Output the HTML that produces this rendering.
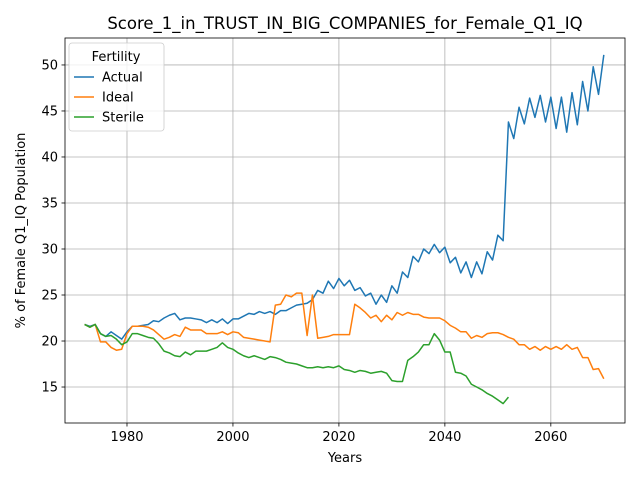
<!DOCTYPE html>
<html><head><meta charset="utf-8"><style>body{margin:0;background:#fff}svg{display:block;font-family:"DejaVu Sans","Liberation Sans",sans-serif}</style></head>
<body>
<svg id="chart" width="640" height="480" viewBox="0 0 640 480"></svg>
<script>
const startYear = 1972;
const actual = [21.8,21.6,21.8,20.8,20.5,21.0,20.6,20.2,21.0,21.6,21.6,21.7,21.8,22.2,22.1,22.5,22.8,23.0,22.3,22.5,22.5,22.4,22.3,22.0,22.3,22.0,22.4,21.9,22.4,22.4,22.7,23.0,22.9,23.2,23.0,23.2,22.9,23.3,23.3,23.6,23.9,24.0,24.1,24.5,25.5,25.2,26.5,25.7,26.8,26.0,26.6,25.5,25.8,24.9,25.2,24.0,25.0,24.2,26.0,25.2,27.5,26.9,29.2,28.6,30.0,29.5,30.5,29.6,30.2,28.5,29.1,27.4,28.6,26.9,28.6,27.3,29.7,28.8,31.5,30.9,43.8,42.0,45.4,43.6,46.4,44.3,46.7,43.8,46.5,43.1,46.5,42.7,47.0,43.5,48.2,45.0,49.8,46.8,51.1];
const ideal = [21.8,21.5,21.8,19.9,19.9,19.3,19.0,19.1,20.8,21.6,21.6,21.6,21.5,21.2,20.7,20.2,20.4,20.7,20.5,21.5,21.2,21.2,21.2,20.8,20.8,20.8,21.0,20.7,21.0,20.9,20.4,20.3,20.2,20.1,20.0,19.9,23.9,24.0,25.0,24.8,25.2,25.2,20.6,25.0,20.3,20.4,20.5,20.7,20.7,20.7,20.7,24.0,23.6,23.1,22.5,22.8,22.1,22.8,22.3,23.1,22.8,23.1,22.9,22.9,22.6,22.5,22.5,22.5,22.2,21.7,21.4,21.0,21.0,20.3,20.6,20.4,20.8,20.9,20.9,20.7,20.4,20.2,19.6,19.6,19.1,19.4,19.0,19.4,19.1,19.4,19.1,19.6,19.1,19.3,18.2,18.2,16.9,17.0,15.9];
const sterile = [21.8,21.5,21.8,20.8,20.5,20.6,20.2,19.6,19.9,20.8,20.8,20.6,20.4,20.3,19.7,18.9,18.7,18.4,18.3,18.8,18.5,18.9,18.9,18.9,19.1,19.3,19.8,19.3,19.1,18.7,18.4,18.2,18.4,18.2,18.0,18.3,18.2,18.0,17.7,17.6,17.5,17.3,17.1,17.1,17.2,17.1,17.2,17.1,17.3,16.9,16.8,16.6,16.8,16.7,16.5,16.6,16.7,16.5,15.7,15.6,15.6,17.9,18.3,18.8,19.6,19.6,20.8,20.1,18.8,18.8,16.6,16.5,16.2,15.3,15.0,14.7,14.3,14.0,13.6,13.2,13.9];
const xTicks = [1980,2000,2020,2040,2060];
const yTicks = [15,20,25,30,35,40,45,50];

const NS="http://www.w3.org/2000/svg";
const svg=document.getElementById('chart');
const L=65,R=625,T=38,B=423,xmin=1968.3,xmax=2074.0,ymin=11.09,ymax=52.93;
const X=v=>L+(v-xmin)/(xmax-xmin)*(R-L);
const Y=v=>B-(v-ymin)/(ymax-ymin)*(B-T);
function mk(tag,attrs,parent){const e=document.createElementNS(NS,tag);for(const k in attrs)e.setAttribute(k,attrs[k]);(parent||svg).appendChild(e);return e;}

const grid=mk('g',{});


xTicks.forEach(t=>{
  const l=mk('line',{x1:X(t),x2:X(t),y1:T,y2:B,stroke:'#b0b0b0','stroke-width':0.8},grid);
  
  
  mk('line',{x1:X(t),x2:X(t),y1:B,y2:B+3.5,stroke:'#000','stroke-width':0.8});
  const tx=mk('text',{x:X(t),y:B+18,'text-anchor':'middle','font-size':13});
  tx.textContent=t;
  
  
});
yTicks.forEach(t=>{
  const l=mk('line',{x1:L,x2:R,y1:Y(t),y2:Y(t),stroke:'#b0b0b0','stroke-width':0.8},grid);
  
  
  mk('line',{x1:L-3.5,x2:L,y1:Y(t),y2:Y(t),stroke:'#000','stroke-width':0.8});
  const tx=mk('text',{x:L-7,y:Y(t)+4.5,'text-anchor':'end','font-size':13});
  tx.textContent=t;
  
  
});

const series=[['Actual',actual,'#1f77b4'],['Ideal',ideal,'#ff7f0e'],['Sterile',sterile,'#2ca02c']];
series.forEach(([name,data,c])=>{
  const pts=data.map((v,i)=>X(startYear+i).toFixed(2)+','+Y(v).toFixed(2)).join(' ');
  const p=mk('polyline',{points:pts,fill:'none',stroke:c,'stroke-width':1.5,'stroke-linejoin':'round'});
  
  
});

const frame=mk('rect',{x:L,y:T,width:R-L,height:B-T,fill:'none',stroke:'#000','stroke-width':0.8});



const title=mk('text',{x:(L+R)/2,y:29,'text-anchor':'middle','font-size':16.5});
title.textContent='Score_1_in_TRUST_IN_BIG_COMPANIES_for_Female_Q1_IQ';


const xl=mk('text',{x:(L+R)/2,y:462,'text-anchor':'middle','font-size':13});
xl.textContent='Years';


const yl=mk('text',{x:0,y:0,'text-anchor':'middle','font-size':13,transform:'translate(25,'+((T+B)/2)+') rotate(-90)'});
yl.textContent='% of Female Q1_IQ Population';



const lg=mk('g',{});


mk('rect',{x:69,y:43,width:95,height:88,rx:3,fill:'#fff','fill-opacity':0.8,stroke:'#ccc','stroke-width':0.8},lg);
const lt=mk('text',{x:116,y:61,'text-anchor':'middle','font-size':13},lg);
lt.textContent='Fertility';


series.forEach(([name,,c],i)=>{
  const y=77+i*20;
  const e=mk('g',{},lg);
  
  
  mk('line',{x1:74,x2:94,y1:y,y2:y,stroke:c,'stroke-width':1.5},e);
  const t=mk('text',{x:102,y:y+4.5,'font-size':13},e);
  t.textContent=name;
});
</script>
</body></html>
